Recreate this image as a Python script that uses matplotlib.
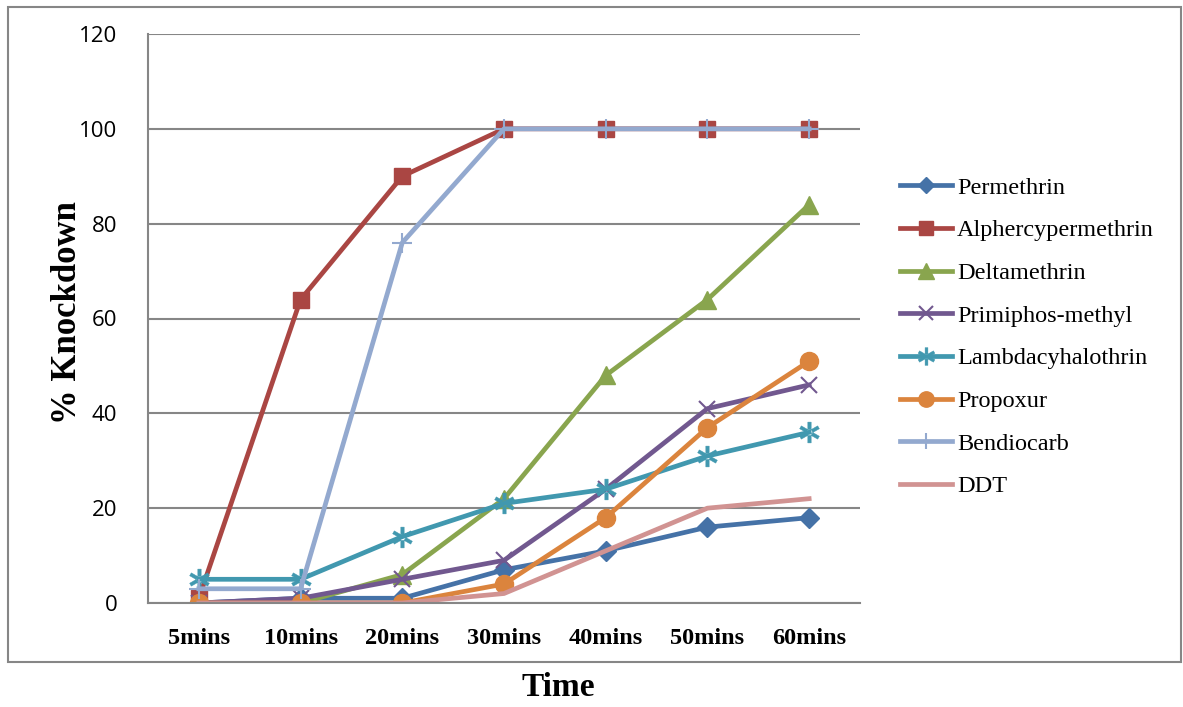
import matplotlib
matplotlib.use("Agg")
import matplotlib.pyplot as plt
from matplotlib.patches import Rectangle

categories = ["5mins", "10mins", "20mins", "30mins", "40mins", "50mins", "60mins"]
permethrin = [0, 1, 1, 7, 11, 16, 18]
alphercypermethrin = [1, 64, 90, 100, 100, 100, 100]
deltamethrin = [0, 0, 6, 22, 48, 64, 84]
primiphos_methyl = [0, 1, 5, 9, 24, 41, 46]
lambdacyhalothrin = [5, 5, 14, 21, 24, 31, 36]
propoxur = [0, 0, 0, 4, 18, 37, 51]
bendiocarb = [3, 3, 76, 100, 100, 100, 100]
ddt = [0, 0, 0, 2, 11, 20, 22]
y_ticks = [0, 20, 40, 60, 80, 100, 120]

series = [
    ("Permethrin", permethrin, "#4572A7", "D", 10),
    ("Alphercypermethrin", alphercypermethrin, "#AA4643", "s", 12),
    ("Deltamethrin", deltamethrin, "#89A54E", "^", 13),
    ("Primiphos-methyl", primiphos_methyl, "#71588F", "x", 12),
    ("Lambdacyhalothrin", lambdacyhalothrin, "#4198AF", "$\u2732$", 15),
    ("Propoxur", propoxur, "#DB843D", "o", 13),
    ("Bendiocarb", bendiocarb, "#93A9CF", "+", 14),
    ("DDT", ddt, "#D19392", "None", 0),
]

fig = plt.figure(figsize=(11.83, 7.07), dpi=100)
# outer chart border
fig.patches.append(Rectangle((8 / 1183, 1 - 662 / 707), (1181 - 8) / 1183, (662 - 7) / 707,
                             transform=fig.transFigure, fill=False, edgecolor="#868686",
                             linewidth=1.5))

ax = fig.add_axes([148 / 1183, 1 - 603 / 707, (860 - 148) / 1183, (603 - 34) / 707])
x = list(range(len(categories)))
for name, vals, color, marker, ms in series:
    if marker in ("x", "+"):
        ax.plot(x, vals, color=color, linewidth=3.4, marker=marker, markersize=ms,
                markeredgewidth=1.5, label=name)
    elif marker.startswith("$"):
        ax.plot(x, vals, color=color, linewidth=3.4, marker=marker, markersize=ms,
                markeredgewidth=0.3, label=name)
    else:
        ax.plot(x, vals, color=color, linewidth=3.4, marker=marker, markersize=ms,
                label=name)

ax.set_xlim(-0.5, len(categories) - 0.5)
ax.set_ylim(0, 120)
ax.set_yticks(y_ticks)
ax.set_yticklabels([str(v) for v in y_ticks], fontsize=16, family="Open Sans")
ax.set_xticks(x)
ax.set_xticklabels(categories, fontsize=17.5, family="Liberation Serif", fontweight="bold")
ax.tick_params(axis="both", length=0)
ax.tick_params(axis="y", pad=22)
ax.tick_params(axis="x", pad=18)
ax.grid(axis="y", color="#868686", linewidth=1.5)
ax.set_axisbelow(True)
for s in ["top", "right"]:
    ax.spines[s].set_visible(False)
for s in ["left", "bottom"]:
    ax.spines[s].set_color("#868686")
    ax.spines[s].set_linewidth(1.5)

fig.text(67 / 1183, 1 - 313 / 707, "% Knockdown", rotation=90, ha="center", va="center",
         fontsize=25, family="Liberation Serif", fontweight="bold")
fig.text(558 / 1183, 1 - 688 / 707, "Time", ha="center", va="center",
         fontsize=24, family="Liberation Serif", fontweight="bold")

leg = fig.legend(loc="upper left", bbox_to_anchor=(890 / 1183, 1 - 167 / 707),
                 frameon=False, prop={"family": "Liberation Serif", "size": 17.5},
                 handlelength=2.15, handletextpad=0.2, labelspacing=0.85, borderaxespad=0,
                 markerscale=0.85)

fig.savefig("out.png", dpi=100)
